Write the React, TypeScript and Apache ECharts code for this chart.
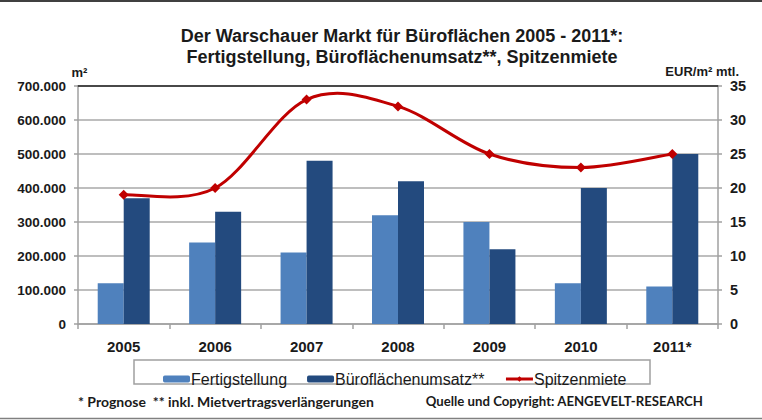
import React, { useEffect, useRef } from "react";
import * as echarts from "echarts";

const categories = ["2005", "2006", "2007", "2008", "2009", "2010", "2011*"];
const fertigstellung = [120000, 240000, 210000, 320000, 300000, 120000, 110000];
const umsatz = [370000, 330000, 480000, 420000, 220000, 400000, 500000];
const spitzenmiete = [19, 20, 33, 32, 25, 23, 25];
const titleLines = [
  "Der Warschauer Markt für Büroflächen 2005 - 2011*:",
  "Fertigstellung, Büroflächenumsatz**, Spitzenmiete",
];
const leftUnit = "m²";
const rightUnit = "EUR/m² mtl.";
const footLeft = "* Prognose  ** inkl. Mietvertragsverlängerungen";
const footRight = "Quelle und Copyright: AENGEVELT-RESEARCH";

const fmtThousands = (v: number) =>
  String(Math.round(v)).replace(/\B(?=(\d{3})+(?!\d))/g, ".");

const RED = "#c00000";

export default function App() {
  const ref = useRef<HTMLDivElement>(null);
  useEffect(() => {
    if (!ref.current) return;
    const chart = echarts.init(ref.current, null, { renderer: "svg" });
    const font = "'Liberation Sans', Arial, sans-serif";
    const footFont = "Lato, 'Open Sans', sans-serif";
    const textColor = "#1a1a1a";
    chart.setOption({
      animation: false,
      backgroundColor: "#ffffff",
      textStyle: { fontFamily: font },
      title: {
        text: titleLines.join("\n"),
        left: 397,
        top: 20,
        textAlign: "center",
        textStyle: {
          fontFamily: font,
          fontSize: 18,
          fontWeight: "bold",
          color: textColor,
          lineHeight: 21,
        },
      },
      grid: { left: 78, right: 44, top: 86, bottom: 96, containLabel: false },
      legend: {
        left: 158,
        top: 366,
        itemWidth: 27,
        itemHeight: 7,
        itemGap: 20,
        textStyle: { fontFamily: font, fontSize: 16, color: textColor, padding: [0, 0, 0, -4] },
        data: [
          { name: "Fertigstellung" },
          { name: "Büroflächenumsatz**" },
          { name: "Spitzenmiete", lineStyle: { color: RED, width: 3, opacity: 1 } },
        ],
      },
      xAxis: [
        {
          type: "category",
          data: categories,
          axisLine: { show: true, lineStyle: { color: "#a0a0a0", width: 1.5 } },
          axisTick: { show: true, length: 5, lineStyle: { color: "#a0a0a0", width: 1.5 } },
          axisLabel: {
            margin: 15,
            fontFamily: font,
            fontSize: 15,
            fontWeight: "bold",
            color: textColor,
          },
        },
        {
          type: "category",
          data: categories,
          position: "top",
          axisLine: { show: true, onZero: false, lineStyle: { color: "#222222", width: 1.5 } },
          axisTick: { show: false },
          axisLabel: { show: false },
        },
      ],
      yAxis: [
        {
          type: "value",
          min: 0,
          max: 700000,
          interval: 100000,
          axisLine: { show: true, lineStyle: { color: "#a0a0a0", width: 1.5 } },
          axisTick: { show: true, length: 4, lineStyle: { color: "#a0a0a0", width: 1.5 } },
          splitLine: { show: true, lineStyle: { color: "#a8a8a8", width: 1.5 } },
          axisLabel: {
            margin: 12,
            fontFamily: font,
            fontSize: 13.5,
            fontWeight: "bold",
            color: textColor,
            formatter: (v: number) => fmtThousands(v),
          },
        },
        {
          type: "value",
          min: 0,
          max: 35,
          interval: 5,
          position: "right",
          axisLine: { show: true, lineStyle: { color: "#a0a0a0", width: 1.5 } },
          axisTick: { show: true, length: 4, lineStyle: { color: "#a0a0a0", width: 1.5 } },
          splitLine: { show: false },
          axisLabel: {
            margin: 12,
            fontFamily: font,
            fontSize: 14.5,
            fontWeight: "bold",
            color: textColor,
          },
        },
      ],
      series: [
        {
          name: "Fertigstellung",
          type: "bar",
          data: fertigstellung,
          barWidth: 26,
          barGap: "0%",
          itemStyle: { color: "#4f81bd" },
        },
        {
          name: "Büroflächenumsatz**",
          type: "bar",
          data: umsatz,
          barWidth: 26,
          barGap: "0%",
          itemStyle: { color: "#234a7e" },
        },
        {
          type: "custom",
          xAxisIndex: 0,
          yAxisIndex: 1,
          data: spitzenmiete.map((v, i) => [i, v]),
          encode: { x: 0, y: 1 },
          silent: true,
          z: 4,
          renderItem: (params: any, api: any) => {
            if (params.dataIndex !== 0) return null;
            const pts = spitzenmiete.map((v, i) => api.coord([i, v]));
            const n = pts.length;
            let d = `M${pts[0][0]},${pts[0][1]}`;
            for (let i = 0; i < n - 1; i++) {
              const p0 = pts[i - 1] || pts[i];
              const p1 = pts[i];
              const p2 = pts[i + 1];
              const p3 = pts[i + 2] || pts[i + 1];
              const c1x = p1[0] + (p2[0] - p0[0]) / 6;
              const c1y = p1[1] + (p2[1] - p0[1]) / 6;
              const c2x = p2[0] - (p3[0] - p1[0]) / 6;
              const c2y = p2[1] - (p3[1] - p1[1]) / 6;
              d += ` C${c1x},${c1y} ${c2x},${c2y} ${p2[0]},${p2[1]}`;
            }
            return {
              type: "path",
              shape: { pathData: d },
              style: { fill: "none", stroke: RED, lineWidth: 3 },
            };
          },
        },
        {
          name: "Spitzenmiete",
          type: "line",
          yAxisIndex: 1,
          data: spitzenmiete,
          symbol: "diamond",
          symbolSize: 10,
          lineStyle: { color: RED, width: 3, opacity: 0 },
          itemStyle: { color: RED },
          z: 5,
        },
      ],
      graphic: [
        {
          type: "line",
          shape: { x1: 0, y1: 1, x2: 762, y2: 1 },
          style: { stroke: "#404040", lineWidth: 2 },
        },
        {
          type: "line",
          shape: { x1: 0, y1: 418.5, x2: 762, y2: 418.5 },
          style: { stroke: "#808080", lineWidth: 1.5 },
        },
        {
          type: "rect",
          shape: { x: 134, y: 360, width: 516, height: 24 },
          style: { fill: "none", stroke: "#a0a0a0", lineWidth: 1.5 },
        },
        {
          type: "text",
          x: 79.5,
          y: 72,
          style: {
            text: leftUnit,
            font: `bold 13px ${font}`,
            fill: textColor,
            textAlign: "center",
            textVerticalAlign: "middle",
          },
        },
        {
          type: "text",
          x: 739,
          y: 71,
          style: {
            text: rightUnit,
            font: `bold 13px ${font}`,
            fill: textColor,
            textAlign: "right",
            textVerticalAlign: "middle",
          },
        },
        {
          type: "text",
          x: 78,
          y: 401,
          style: {
            text: footLeft,
            font: `bold 14px ${footFont}`,
            fill: textColor,
            textAlign: "left",
            textVerticalAlign: "middle",
          },
        },
        {
          type: "text",
          x: 703,
          y: 401,
          style: {
            text: footRight,
            font: `bold 13.2px ${footFont}`,
            fill: textColor,
            textAlign: "right",
            textVerticalAlign: "middle",
          },
        },
      ],
    });
    return () => chart.dispose();
  }, []);
  return (
    <div
      ref={ref}
      style={{ position: "absolute", left: 0, top: 0, width: 762, height: 420 }}
    />
  );
}
